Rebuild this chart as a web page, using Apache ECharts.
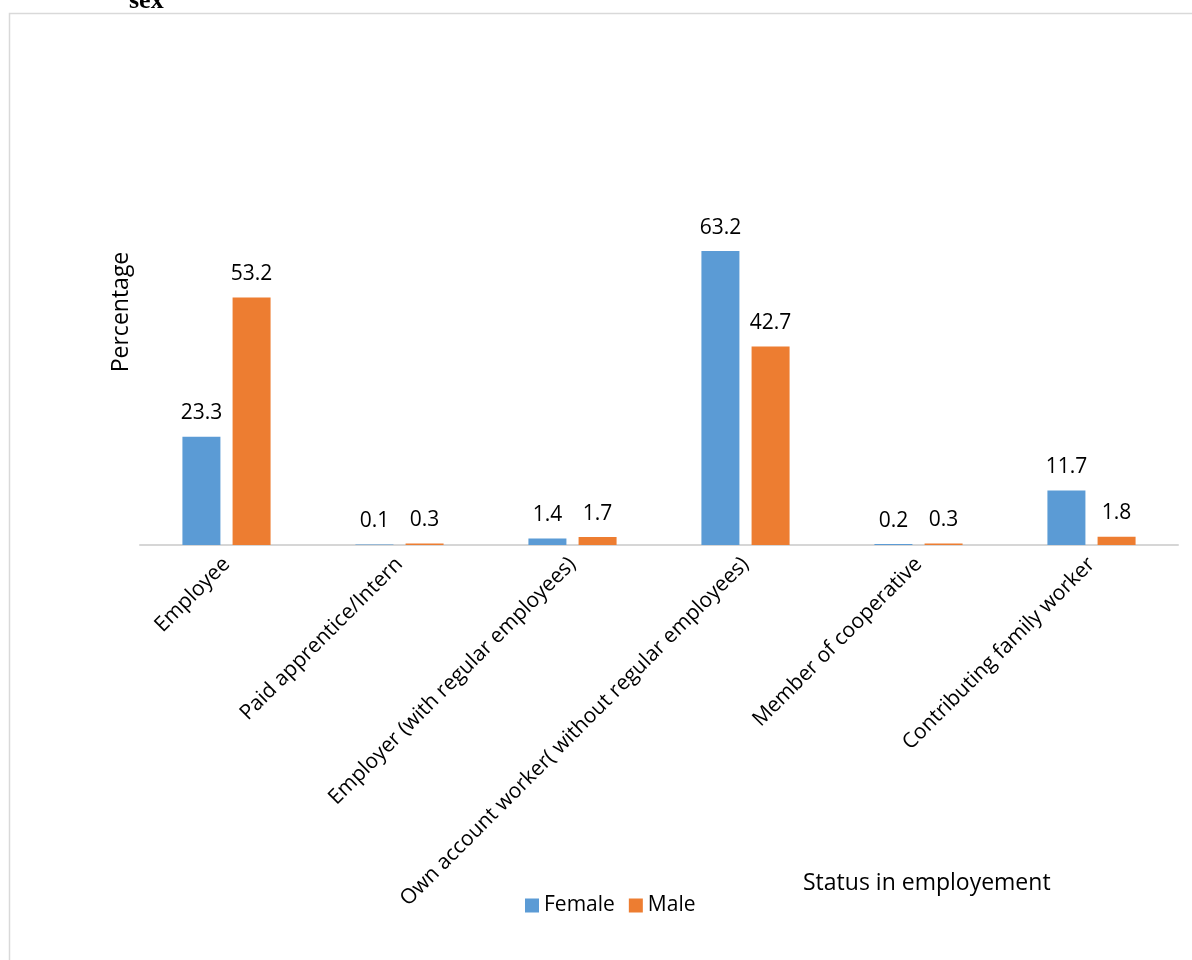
<!DOCTYPE html>
<html>
<head>
<meta charset="utf-8">
<script src="https://cdn.jsdelivr.net/npm/echarts@6/dist/echarts.min.js"></script>
<style>
html,body{margin:0;padding:0;background:#fff;}
#c{width:1192px;height:960px;}
</style>
</head>
<body>
<div id="c"></div>
<script>
const categories = ["Employee", "Paid apprentice/Intern", "Employer (with regular employees)", "Own account worker( without regular employees)", "Member of cooperative", "Contributing family worker"];
const female = [23.3, 0.1, 1.4, 63.2, 0.2, 11.7];
const male = [53.2, 0.3, 1.7, 42.7, 0.3, 1.8];
const seriesNames = ["Female", "Male"];

const FONT = "'Open Sans', 'DejaVu Sans', sans-serif";
const chart = echarts.init(document.getElementById('c'), null, {renderer: 'canvas'});
const labelCfg = {show: true, position: 'top', distance: 13, color: '#000', fontSize: 21, fontFamily: FONT};
chart.setOption({
  animation: false,
  backgroundColor: '#fff',
  grid: {left: 140, right: 14, top: 80, bottom: 415, containLabel: false},
  legend: {
    data: seriesNames,
    left: 520, top: 890,
    itemWidth: 14, itemHeight: 14, itemGap: 14,
    icon: 'rect',
    textStyle: {fontSize: 21, fontFamily: FONT, color: '#000'}
  },
  xAxis: {
    type: 'category',
    data: categories,
    axisLine: {lineStyle: {color: '#d6d6d6', width: 2}},
    axisTick: {show: false},
    axisLabel: {rotate: 45, interval: 0, margin: 16, fontSize: 21, fontFamily: FONT, color: '#000'}
  },
  yAxis: {
    type: 'value', min: 0, max: 100,
    axisLine: {show: false}, axisTick: {show: false}, axisLabel: {show: false},
    splitLine: {show: false}
  },
  series: [
    {name: seriesNames[0], type: 'bar', data: female, barWidth: 38, barGap: '32%', itemStyle: {color: '#5B9BD5'}, label: labelCfg},
    {name: seriesNames[1], type: 'bar', data: male, barWidth: 38, itemStyle: {color: '#ED7D31'}, label: labelCfg}
  ],
  graphic: [
    {type: 'rect', shape: {x: 9.5, y: 13.5, width: 1200, height: 1000}, style: {fill: 'none', stroke: '#d9d9d9', lineWidth: 1.5}, silent: true},
    {type: 'text', x: 129, y: -12, style: {text: 'sex', font: "bold 26px 'Liberation Serif', serif", fill: '#000'}},
    {type: 'text', x: 121, y: 312, rotation: Math.PI/2, style: {text: 'Percentage', font: "23px " + FONT, fill: '#000', textAlign: 'center', textVerticalAlign: 'middle'}},
    {type: 'text', x: 803, y: 883, style: {text: 'Status in employement', font: "23px " + FONT, fill: '#000', textAlign: 'left', textVerticalAlign: 'middle'}}
  ]
});
</script>
</body>
</html>
